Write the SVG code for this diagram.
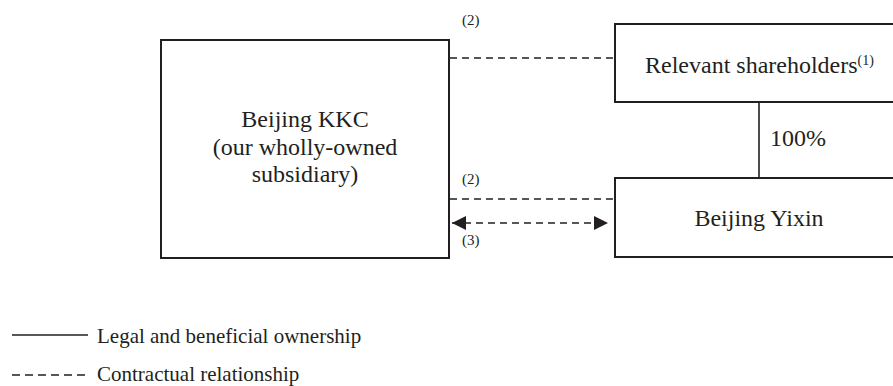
<svg xmlns="http://www.w3.org/2000/svg" width="893" height="386" viewBox="0 0 893 386">
<style>
.box{fill:#fff;stroke:#231f20;stroke-width:2}
.t{font-family:"Liberation Serif","Times New Roman",serif;fill:#231f20}
.big{font-size:24px}
.sm{font-size:15px}
.sup{font-size:14px}
.leg{font-size:21px}
.dash{stroke:#231f20;stroke-width:1.6;stroke-dasharray:7 5;fill:none}
.solid{stroke:#231f20;stroke-width:1.6;fill:none}
</style>
<defs>
<marker id="ah" viewBox="0 0 14 14" refX="14" refY="7" markerWidth="14" markerHeight="14" markerUnits="userSpaceOnUse" orient="auto-start-reverse">
<path d="M0,0 L14,7 L0,14 Z" fill="#231f20"/>
</marker>
</defs>
<rect width="893" height="386" fill="#fff"/>
<g id="connectors">
<line class="dash" x1="450" y1="58" x2="614" y2="58"/>
<line class="solid" x1="759" y1="102" x2="759" y2="178"/>
<line class="dash" x1="450" y1="199" x2="614" y2="199"/>
<line class="dash" x1="452" y1="223" x2="608" y2="223" marker-start="url(#ah)" marker-end="url(#ah)"/>
<text class="t sm" x="462" y="25">(2)</text>
<text class="t sm" x="462" y="184">(2)</text>
<text class="t sm" x="462" y="245">(3)</text>
<text class="t big" x="770" y="146">100%</text>
</g>
<g id="kkc">
<rect class="box" x="161" y="40" width="288" height="218"/>
<text class="t big" text-anchor="middle" x="305" y="127">Beijing KKC</text>
<text class="t big" text-anchor="middle" x="305" y="155">(our wholly-owned</text>
<text class="t big" text-anchor="middle" x="305" y="182">subsidiary)</text>
</g>
<g id="shareholders">
<rect class="box" x="615" y="24" width="290" height="78"/>
<text class="t big" x="645" y="73">Relevant shareholders<tspan class="sup" dy="-8">(1)</tspan></text>
</g>
<g id="yixin">
<rect class="box" x="615" y="178" width="290" height="79"/>
<text class="t big" text-anchor="middle" x="759" y="226">Beijing Yixin</text>
</g>
<g id="legend">
<line class="solid" x1="12" y1="335" x2="88" y2="335"/>
<text class="t leg" x="97" y="343">Legal and beneficial ownership</text>
<line class="dash" x1="12" y1="375" x2="88" y2="375" style="stroke-dasharray:8 5"/>
<text class="t leg" x="97" y="381">Contractual relationship</text>
</g>
</svg>
